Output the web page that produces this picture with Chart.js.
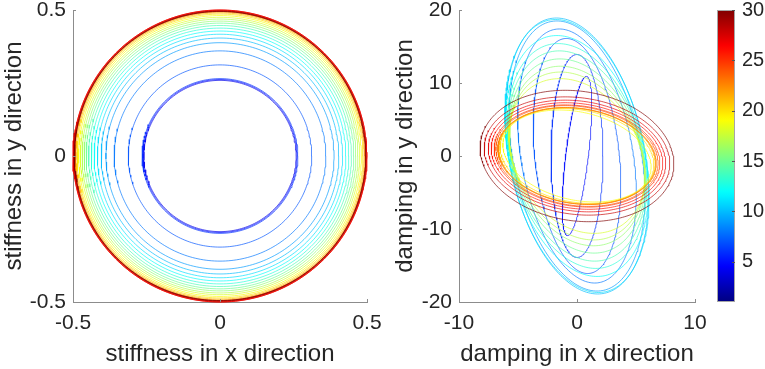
<!DOCTYPE html>
<html><head><meta charset="utf-8">
<script src="https://cdn.jsdelivr.net/npm/chart.js@4.4.1/dist/chart.umd.min.js"></script>
<style>
html,body{margin:0;padding:0;background:#fff;}
#wrap{position:relative;width:765px;height:369px;overflow:hidden;background:#fff;}
canvas{position:absolute;left:0;top:0;}
</style></head><body>
<div id="wrap">
<canvas id="c1" width="765" height="369"></canvas>
<canvas id="c2" width="765" height="369"></canvas>
<canvas id="c3" width="765" height="369"></canvas>
</div>
<script>
// ---------- data ----------
// left panel: circles (colour value, radius)
const leftValues = [4, 5, 6, 7, 8, 9, 10, 11, 12, 13, 14, 15, 16, 17, 18, 19, 20, 21, 22, 23, 24, 25, 26, 27, 28, 29, 30];
const leftRadii  = [0.259, 0.262, 0.265, 0.312, 0.360, 0.388, 0.404, 0.417, 0.428, 0.438, 0.447, 0.455, 0.462, 0.469, 0.475, 0.481, 0.486, 0.490, 0.493, 0.495, 0.497, 0.499, 0.500, 0.500, 0.497, 0.496, 0.495];

// right panel: ellipses x = xAmp*cos t + xShift*sin t, y = yAmp*sin t
const rightValues = [5, 6, 7, 8, 9, 10, 11, 12, 13, 14, 15, 16, 17, 18, 19, 20, 21, 22, 23, 24, 25, 26, 27, 28, 30];
const rightXAmp   = [0.96, 2.2, 3.6, 4.8, 5.5, 5.8, 5.85, 5.8, 5.7, 5.65, 5.6, 5.55, 5.55, 5.6, 6.1, 6.4, 6.55, 6.6, 6.65, 6.8, 6.95, 7.2, 7.45, 7.8, 8.15];
const rightXShift = [0.8, 0.0, -0.9, -1.5, -1.7, -1.75, -1.8, -1.7, -1.6, -1.5, -1.45, -1.4, -1.4, -1.45, -1.5, -1.2, -1.0, -1.0, -1.0, -1.0, -1.0, -1.0, -1.0, -1.0, -1.0];
const rightYAmp   = [10.9, 13.9, 16.1, 17.4, 18.5, 18.9, 18.7, 16.5, 15.4, 14.4, 13.3, 12.3, 11.5, 10.6, 6.3, 6.5, 6.6, 6.62, 6.65, 6.9, 7.0, 7.3, 7.65, 8.1, 9.0];

const leftXTicks = [-0.5, 0, 0.5];
const leftYTicks = [-0.5, 0, 0.5];
const rightXTicks = [-10, 0, 10];
const rightYTicks = [-20, -10, 0, 10, 20];
const colorbarTicks = [5, 10, 15, 20, 25, 30];
const colorbarRange = [1, 30];

// ---------- helpers ----------
const FONT = "'Liberation Sans', Arial, Helvetica, sans-serif";
const TXT = '#262626';
const AXIS = '#8c8c8c';
function jet(v){
  const x = (v - colorbarRange[0]) / (colorbarRange[1] - colorbarRange[0]);
  const c = t => Math.max(0, Math.min(1, 1.5 - Math.abs(t)));
  return [c(4*x-3), c(4*x-2), c(4*x-1)].map(u => Math.round(u*255));
}
function rgb(v){ const c = jet(v); return 'rgb(' + c.join(',') + ')'; }
function rgba(v, a){ const c = jet(v); return 'rgba(' + c.join(',') + ',' + a + ')'; }
const N = 241;
function ring(r){
  const p = [];
  for (let i = 0; i < N; i++){ const t = 2*Math.PI*i/(N-1); p.push({x: r*Math.cos(t), y: r*Math.sin(t)}); }
  return p;
}
function ellipse(a, s, b){
  const p = [];
  for (let i = 0; i < N; i++){ const t = 2*Math.PI*i/(N-1); p.push({x: a*Math.cos(t) + s*Math.sin(t), y: b*Math.sin(t)}); }
  return p;
}
function lineDs(data, v){
  return {data, borderColor: rgba(v, 0.8), borderWidth: 0.85, showLine: true, pointRadius: 0, fill: false, tension: 0, clip: false};
}

const inwardTicks = {
  id: 'inwardTicks',
  afterDraw(chart){
    const {ctx, chartArea: a, scales: {x, y}} = chart;
    ctx.save(); ctx.strokeStyle = AXIS; ctx.lineWidth = 1;
    ctx.beginPath();
    x.ticks.forEach(t => { const px = Math.round(x.getPixelForValue(t.value)) + 0.5; ctx.moveTo(px, a.bottom); ctx.lineTo(px, a.bottom - 3); });
    y.ticks.forEach(t => { const py = Math.round(y.getPixelForValue(t.value)) + 0.5; ctx.moveTo(a.left, py); ctx.lineTo(a.left + 3, py); });
    ctx.stroke(); ctx.restore();
  }
};

function axisOpts(ticksArr, min, max, title, isY, size){
  return {
    type: 'linear', min, max,
    afterBuildTicks: s => { s.ticks = ticksArr.map(v => ({value: v})); },
    afterFit: s => { if (isY) { s.width = size; s.paddingTop = 0; s.paddingBottom = 0; } else { s.height = size; s.paddingLeft = 0; s.paddingRight = 0; } },
    grid: {display: false, drawTicks: false},
    border: {display: true, color: AXIS, width: 1},
    ticks: {color: TXT, font: {family: FONT, size: 21}, padding: isY ? 7 : 9, maxRotation: 0, autoSkip: false, callback: v => String(v)},
    title: {display: true, text: title, color: TXT, font: {family: FONT, size: 24}, padding: {top: 0, bottom: 0}}
  };
}

function commonOpts(){
  return {responsive: false, animation: false, events: [],
    plugins: {legend: {display: false}, tooltip: {enabled: false}}};
}

// ---------- left chart ----------
const leftDs = leftValues.map((v, i) => lineDs(ring(leftRadii[i]), v)).reverse();
new Chart(document.getElementById('c1'), {
  type: 'scatter',
  data: {datasets: leftDs},
  options: Object.assign(commonOpts(), {
    layout: {padding: {left: 0, right: 398, top: 10, bottom: 0}},
    scales: {
      x: axisOpts(leftXTicks, -0.5, 0.5, 'stiffness in x direction', false, 67),
      y: axisOpts(leftYTicks, -0.5, 0.5, 'stiffness in y direction', true, 73)
    }
  }),
  plugins: [inwardTicks]
});

// ---------- right chart ----------
const rightDs = rightValues.map((v, i) => lineDs(ellipse(rightXAmp[i], rightXShift[i], rightYAmp[i]), v)).reverse();
new Chart(document.getElementById('c2'), {
  type: 'scatter',
  data: {datasets: rightDs},
  options: Object.assign(commonOpts(), {
    layout: {padding: {left: 391, right: 70, top: 10, bottom: 0}},
    scales: {
      x: axisOpts(rightXTicks, -10, 10, 'damping in x direction', false, 67),
      y: axisOpts(rightYTicks, -20, 20, 'damping in y direction', true, 68)
    }
  }),
  plugins: [inwardTicks]
});

// ---------- colorbar ----------
const colorbarPlugin = {
  id: 'colorbar',
  beforeDatasetsDraw(chart){
    const {ctx, chartArea: a, scales: {y}} = chart;
    const y0 = y.getPixelForValue(colorbarRange[0]), y1 = y.getPixelForValue(colorbarRange[1]);
    const g = ctx.createLinearGradient(0, y0, 0, y1);
    for (let v = colorbarRange[0]; v <= colorbarRange[1]; v += 0.5){
      g.addColorStop((v - colorbarRange[0]) / (colorbarRange[1] - colorbarRange[0]), rgb(v));
    }
    ctx.save();
    ctx.fillStyle = g;
    ctx.fillRect(a.left, y1, a.right - a.left, y0 - y1);
    ctx.strokeStyle = '#a6a6a6'; ctx.lineWidth = 1;
    ctx.strokeRect(a.left + 0.5, y1 + 0.5, a.right - a.left - 1, y0 - y1 - 1);
    ctx.strokeStyle = '#555'; ctx.beginPath();
    y.ticks.forEach(t => { const py = Math.round(y.getPixelForValue(t.value)) + 0.5; ctx.moveTo(a.right - 3, py); ctx.lineTo(a.right, py); });
    ctx.stroke();
    ctx.restore();
  }
};
new Chart(document.getElementById('c3'), {
  type: 'scatter',
  data: {datasets: [{data: [], pointRadius: 0}]},
  options: Object.assign(commonOpts(), {
    layout: {padding: {left: 717, right: 0, top: 10, bottom: 67}},
    scales: {
      x: {display: false, min: 0, max: 1},
      y: {
        type: 'linear', position: 'right', min: colorbarRange[0], max: colorbarRange[1],
        afterBuildTicks: s => { s.ticks = colorbarTicks.map(v => ({value: v})); },
        afterFit: s => { s.width = 30; s.paddingTop = 0; s.paddingBottom = 0; },
        grid: {display: false, drawTicks: false},
        border: {display: false},
        ticks: {color: TXT, font: {family: FONT, size: 20}, padding: 7, callback: v => String(v)}
      }
    }
  }),
  plugins: [colorbarPlugin]
});
</script>
</body></html>
